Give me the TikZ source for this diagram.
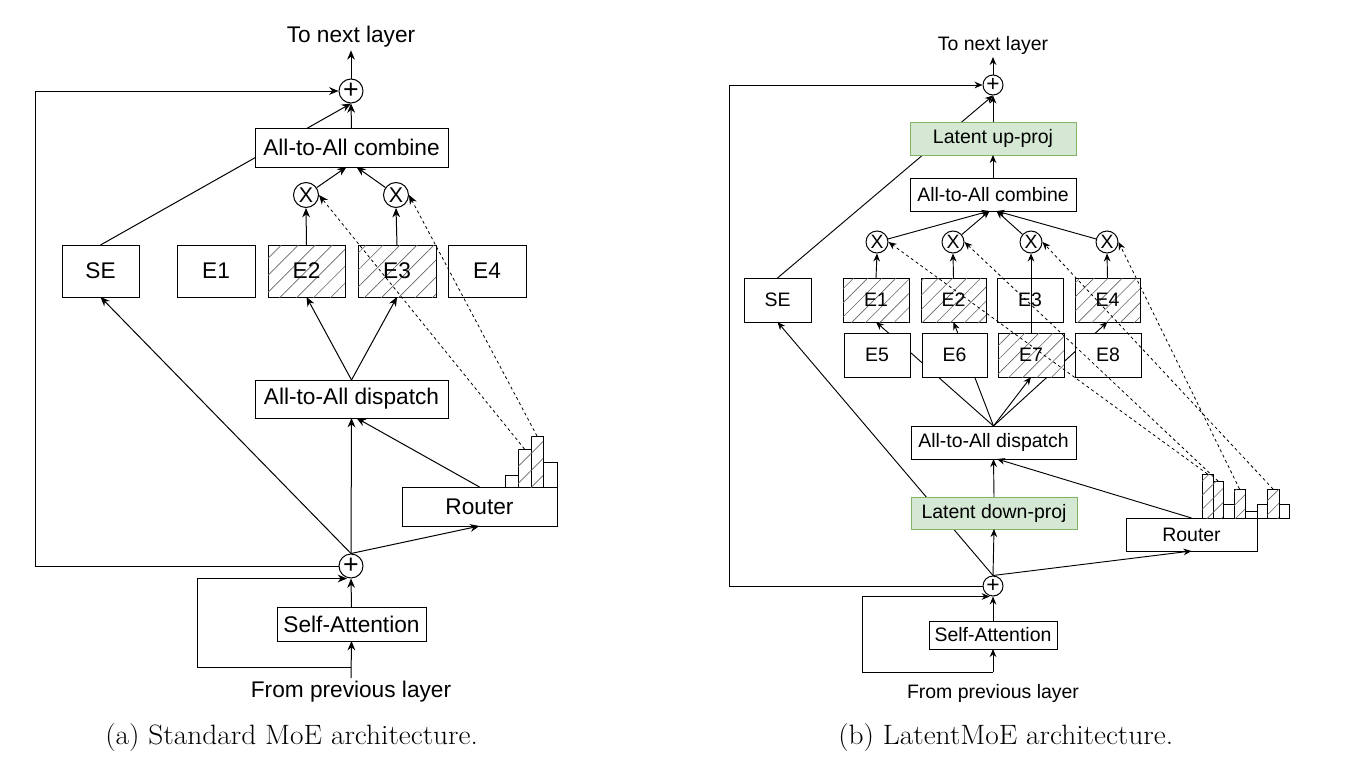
\documentclass[tikz,border=0pt]{standalone}
\usepackage{fontspec}
\newfontfamily\hv{Liberation Sans}
\newfontfamily\capfont[FakeStretch=1.05]{Latin Modern Roman}
\usetikzlibrary{arrows.meta,patterns.meta}
\pgfdeclarelayer{bg0}
\pgfdeclarelayer{background}
\pgfsetlayers{bg0,background,main}
\definecolor{gfill}{HTML}{D5E8D4}
\definecolor{gdraw}{HTML}{82B366}
% box from corner (x1,y1) to (x2,y2) in pixel units
\newcommand\bx[7]{\node[#1, minimum width={(#5-#3)*0.75pt}, minimum height={(#6-#4)*0.75pt}] (#2) at ({(#3+#5)/2},{(#4+#6)/2}) {#7};}
\begin{document}
\begin{tikzpicture}[x=0.75pt,y=-0.75pt,
  box/.style={draw=black, line width=0.75pt, fill=white, inner sep=0pt, outer sep=0pt},
  latent/.style={fill=gfill, draw=gdraw},
  fontL/.style={font=\hv\fontsize{17pt}{20pt}\selectfont},
  fontR/.style={font=\hv\fontsize{14.6pt}{17pt}\selectfont},
  fontPL/.style={font=\hv\fontsize{20pt}{22pt}\selectfont},
  fontPR/.style={font=\hv\fontsize{17pt}{19pt}\selectfont},
  fontXL/.style={font=\hv\fontsize{16pt}{18pt}\selectfont},
  fontXR/.style={font=\hv\fontsize{14.5pt}{16pt}\selectfont},
  hatchL/.style={postaction={pattern={Lines[angle=45,distance=9pt,line width=0.5pt]},pattern color=black!60}},
  hatchR/.style={postaction={pattern={Lines[angle=45,distance=7.5pt,line width=0.45pt]},pattern color=black!60}},
  circ/.style={circle, draw=black, fill=white, inner sep=0pt, line width=0.75pt},
  arr/.style={-{Stealth[length=7pt,width=5.8pt]}, line width=0.75pt},
  arrR/.style={-{Stealth[length=6pt,width=5pt]}, line width=0.7pt},
  dsh/.style={dash pattern=on 2.2pt off 2.2pt, line width=0.6pt},
  captext/.style={anchor=base west, inner sep=0pt, font=\capfont\fontsize{21pt}{25pt}\selectfont}
]
\begin{pgfonlayer}{bg0}
\fill[white] (0,0) rectangle (1356,764);
\end{pgfonlayer}
\useasboundingbox (0,0) rectangle (1356,764);

% ================= LEFT: Standard MoE =================
\node[fontL, anchor=base, inner sep=2pt] (tnl) at (351,42.7) {To next layer};
\node[circ, fontPL, minimum size=18pt] (pl1) at (351,91) {+};
\bx{box, fontL}{comb}{255}{128}{448}{167}{All-to-All combine}
\node[circ, fontXL, minimum size=18.75pt] (x1) at (306,195) {X};
\node[circ, fontXL, minimum size=18.75pt] (x2) at (396,195) {X};
\bx{box, fontL}{se}{62}{245}{139}{297}{SE}
\bx{box, fontL}{e1}{177}{245}{255}{297}{E1}
\bx{box, fontL, hatchL}{e2}{268}{245}{345}{297}{E2}
\bx{box, fontL, hatchL}{e3}{358}{245}{436}{297}{E3}
\bx{box, fontL}{e4}{448}{245}{526}{297}{E4}
\bx{box, fontL}{disp}{255}{380}{448}{418}{All-to-All dispatch}
\bx{box, fontL}{router}{402}{487}{557}{526}{Router}
\bx{box}{lb1}{505}{475}{518}{487}{}
\bx{box, hatchL}{lb2}{518}{449}{531}{487}{}
\bx{box, hatchL}{lb3}{531}{436}{543}{487}{}
\bx{box}{lb4}{543}{462}{557}{487}{}
\node[circ, fontPL, minimum size=18pt] (pl2) at (351,566) {+};
\bx{box, fontL}{sa}{277}{607}{426}{641}{Self-Attention}
\node[fontL, anchor=base, inner sep=0pt] (fpl) at (351,697) {From previous layer};
\coordinate (inL) at (351,678);
\coordinate (brL) at (351,667);
\coordinate (rcL) at (197,667);
\coordinate (fbL) at (35,566);

\begin{pgfonlayer}{background}
\draw[arr] (se.north) -- (pl1.south);
\end{pgfonlayer}
\draw[arr] (pl1.north) -- (tnl.south);
\draw[arr] (comb.north) -- (pl1.south);
\draw[arr] (x1) -- ([xshift=-3.75pt]comb.south);
\draw[arr] (x2) -- ([xshift=3.75pt]comb.south);
\draw[arr] (e2.north) -- (x1.south);
\draw[arr] (e3.north) -- (x2.south);
\draw[arr] (disp.north) -- (e2.south);
\draw[arr] (disp.north) -- (e3.south);
\draw[arr] (pl2.north) -- (se.south);
\draw[arr] (pl2.north) -- (disp.south);
\draw[arr] (router.north) -- ([xshift=3.75pt]disp.south);
\draw[arr] (pl2.north) -- (router.south);
\draw[arr] (pl2.west) -- (fbL) |- (pl1.west);
\draw[arr] (brL) -- (rcL) |- ([xshift=-3pt]pl2.south);
\draw[arr] (sa.north) -- (pl2.south);
\draw[arr] (inL) -- (sa.south);
\draw[arr,dsh] (lb2.north) -- (x1.east);
\draw[arr,dsh] (lb3.north) -- (x2.east);

% ================= RIGHT: LatentMoE =================
\node[fontR, anchor=base, inner sep=2pt] (tnr) at (993,50) {To next layer};
\node[circ, fontPR, minimum size=15pt] (pr1) at (993,85) {+};
\bx{box, latent, fontR}{up}{910}{122}{1076}{155}{Latent up-proj}
\bx{box, fontR}{comr}{910}{178}{1076}{211}{All-to-All combine}
\node[circ, fontXR, minimum size=16.5pt] (xr1) at (877,242) {X};
\node[circ, fontXR, minimum size=16.5pt] (xr2) at (953,242) {X};
\node[circ, fontXR, minimum size=16.5pt] (xr3) at (1031,242) {X};
\node[circ, fontXR, minimum size=16.5pt] (xr4) at (1107,242) {X};
\bx{box, fontR}{ser}{744}{278}{811}{322}{SE}

\begin{pgfonlayer}{background}
\draw[arrR] (ser.north) -- (pr1.south);
\end{pgfonlayer}

\bx{box, fontR, hatchR}{er1}{843}{278}{909}{322}{E1}
\bx{box, fontR, hatchR}{er2}{921}{278}{986}{322}{E2}
\bx{box, fontR}{er3}{997}{278}{1063}{322}{E3}
\bx{box, fontR, hatchR}{er4}{1075}{278}{1140}{322}{E4}
\bx{box, fontR}{er5}{844}{333}{910}{377}{E5}
\bx{box, fontR}{er6}{922}{333}{987}{377}{E6}
\bx{box, fontR, hatchR}{er7}{998}{333}{1064}{377}{E7}
\bx{box, fontR}{er8}{1075}{333}{1141}{377}{E8}
\bx{box, fontR}{dispr}{911}{426}{1076}{459}{All-to-All dispatch}
\bx{box, latent, fontR}{down}{911}{497}{1077}{529}{Latent down-proj}
\bx{box, fontR}{routr}{1126}{518}{1257}{551}{Router}
\bx{box, hatchR}{rb1}{1202}{474}{1213}{518}{}
\bx{box, hatchR}{rb2}{1213}{481}{1223}{518}{}
\bx{box}{rb3}{1223}{504}{1234}{518}{}
\bx{box, hatchR}{rb4}{1234}{489}{1245}{518}{}
\bx{box}{rb5}{1245}{511}{1257}{518}{}
\bx{box}{rb6}{1257}{504}{1267}{518}{}
\bx{box, hatchR}{rb7}{1267}{489}{1279}{518}{}
\bx{box}{rb8}{1279}{504}{1289}{518}{}
\node[circ, fontPR, minimum size=15pt] (pr2) at (993,586) {+};
\bx{box, fontR}{sar}{929}{621}{1057}{649}{Self-Attention}
\node[fontR, anchor=base, inner sep=0pt] (fpr) at (993,698) {From previous layer};
\coordinate (inR) at (993,672);
\coordinate (rcR) at (862,672);
\coordinate (fbR) at (729,586);

\begin{pgfonlayer}{background}
\draw[arrR] (dispr.north) -- (er1.south);
\draw[arrR] (dispr.north) -- (er2.south);
\draw[arrR] (dispr.north) -- (er4.south);
\draw[arrR] (pr2.north) -- (ser.south);
\end{pgfonlayer}
\draw[arrR] (dispr.north) -- (er7.south);
\draw[arrR] (pr1.north) -- (tnr.south);
\draw[arrR] (up.north) -- (pr1.south);
\draw[arrR] (comr.north) -- (up.south);
\draw[arrR] (xr1) -- ([xshift=-2.6pt]comr.south);
\draw[arrR] (xr2) -- ([xshift=-2.6pt]comr.south);
\draw[arrR] (xr3) -- ([xshift=2.6pt]comr.south);
\draw[arrR] (xr4) -- ([xshift=2.6pt]comr.south);
\draw[arrR] (er1.north) -- (xr1.south);
\draw[arrR] (er2.north) -- (xr2.south);
\draw[arrR] (er4.north) -- (xr4.south);
\draw[arrR] (er7.north) -- (xr3.south);
\draw[arrR] (down.north) -- (dispr.south);
\draw[arrR] (routr.north) -- ([xshift=2.6pt]dispr.south);
\draw[arrR] (pr2.north) -- (down.south);
\draw[arrR] (pr2.north) -- (routr.south);
\draw[arrR] (pr2.west) -- (fbR) |- (pr1.west);
\draw[arrR] (inR) -- (rcR) |- ([xshift=-2.5pt]pr2.south);
\draw[arrR] (sar.north) -- (pr2.south);
\draw[arrR] (inR) -- (sar.south);
\draw[arrR,dsh] (rb1.north) -- (xr1.east);
\draw[arrR,dsh] (rb2.north) -- (xr2.east);
\draw[arrR,dsh] (rb7.north) -- (xr3.east);
\draw[arrR,dsh] (rb4.north) -- (xr4.east);

% ================= Captions =================
\node[captext] (capa) at (105,744) {(a) Standard MoE architecture.};
\node[captext] (capb) at (838,744) {(b) LatentMoE architecture.};
\end{tikzpicture}
\end{document}
